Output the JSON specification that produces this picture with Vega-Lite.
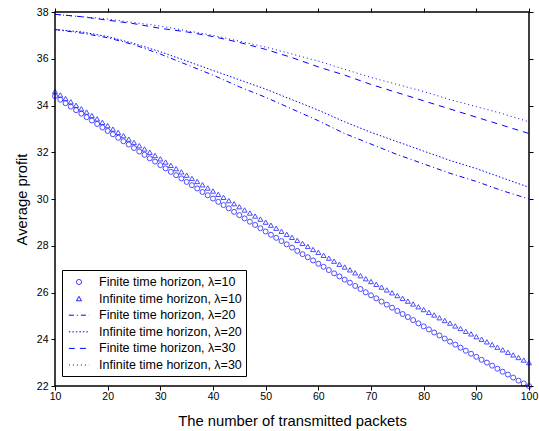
{
  "$schema": "https://vega.github.io/schema/vega-lite/v6.json",
  "width": 474,
  "height": 374,
  "autosize": "none",
  "padding": {"left": 55, "top": 12, "right": 10, "bottom": 45},
  "config": {
    "font": "Liberation Sans",
    "view": {"stroke": "black", "strokeWidth": 1.5},
    "axis": {
      "grid": false,
      "domain": false,
      "ticks": true,
      "zindex": 1,
      "tickSize": 4,
      "tickColor": "black",
      "tickWidth": 1,
      "labelFontSize": 10.5,
      "labelColor": "black",
      "labelFlush": false,
      "labelOverlap": false,
      "titleFontSize": 14.8,
      "titleFontWeight": "normal",
      "titleColor": "black"
    },
    "legend": {
      "orient": "none",
      "legendX": 7,
      "legendY": 258,
      "strokeColor": "black",
      "fillColor": "white",
      "padding": 4,
      "rowPadding": 1.6,
      "labelFontSize": 12.5,
      "labelColor": "black",
      "labelLimit": 300,
      "labelOffset": 12,
      "symbolOffset": 5,
      "symbolStrokeColor": "#0000ff",
      "symbolStrokeWidth": 1,
      "symbolSize": 225
    }
  },
  "datasets": {
    "lines": [
      {"s":"F20","x":10,"y":37.25},{"s":"F20","x":15,"y":37.1},{"s":"F20","x":20,"y":36.9},{"s":"F20","x":25,"y":36.6},{"s":"F20","x":30,"y":36.2},{"s":"F20","x":35,"y":35.75},{"s":"F20","x":40,"y":35.3},{"s":"F20","x":45,"y":34.8},{"s":"F20","x":50,"y":34.35},{"s":"F20","x":55,"y":33.85},{"s":"F20","x":60,"y":33.35},{"s":"F20","x":65,"y":32.8},{"s":"F20","x":70,"y":32.35},{"s":"F20","x":75,"y":31.9},{"s":"F20","x":80,"y":31.5},{"s":"F20","x":85,"y":31.1},{"s":"F20","x":90,"y":30.75},{"s":"F20","x":95,"y":30.35},{"s":"F20","x":100,"y":30.0},
      {"s":"I20","x":10,"y":37.25},{"s":"I20","x":15,"y":37.15},{"s":"I20","x":20,"y":36.95},{"s":"I20","x":25,"y":36.65},{"s":"I20","x":30,"y":36.3},{"s":"I20","x":35,"y":35.9},{"s":"I20","x":40,"y":35.5},{"s":"I20","x":45,"y":35.1},{"s":"I20","x":50,"y":34.7},{"s":"I20","x":55,"y":34.25},{"s":"I20","x":60,"y":33.8},{"s":"I20","x":65,"y":33.3},{"s":"I20","x":70,"y":32.85},{"s":"I20","x":75,"y":32.45},{"s":"I20","x":80,"y":32.05},{"s":"I20","x":85,"y":31.65},{"s":"I20","x":90,"y":31.3},{"s":"I20","x":95,"y":30.9},{"s":"I20","x":100,"y":30.5},
      {"s":"F30","x":10,"y":37.9},{"s":"F30","x":15,"y":37.8},{"s":"F30","x":20,"y":37.65},{"s":"F30","x":25,"y":37.5},{"s":"F30","x":30,"y":37.3},{"s":"F30","x":35,"y":37.15},{"s":"F30","x":40,"y":36.95},{"s":"F30","x":45,"y":36.7},{"s":"F30","x":50,"y":36.4},{"s":"F30","x":55,"y":36.05},{"s":"F30","x":60,"y":35.65},{"s":"F30","x":65,"y":35.3},{"s":"F30","x":70,"y":34.9},{"s":"F30","x":75,"y":34.55},{"s":"F30","x":80,"y":34.2},{"s":"F30","x":85,"y":33.85},{"s":"F30","x":90,"y":33.5},{"s":"F30","x":95,"y":33.15},{"s":"F30","x":100,"y":32.8},
      {"s":"I30","x":10,"y":37.9},{"s":"I30","x":15,"y":37.8},{"s":"I30","x":20,"y":37.7},{"s":"I30","x":25,"y":37.55},{"s":"I30","x":30,"y":37.4},{"s":"I30","x":35,"y":37.2},{"s":"I30","x":40,"y":37.0},{"s":"I30","x":45,"y":36.75},{"s":"I30","x":50,"y":36.5},{"s":"I30","x":55,"y":36.2},{"s":"I30","x":60,"y":35.9},{"s":"I30","x":65,"y":35.55},{"s":"I30","x":70,"y":35.2},{"s":"I30","x":75,"y":34.9},{"s":"I30","x":80,"y":34.6},{"s":"I30","x":85,"y":34.25},{"s":"I30","x":90,"y":33.95},{"s":"I30","x":95,"y":33.65},{"s":"I30","x":100,"y":33.3}
    ],
    "points": [
      {"s":"F10","x":10,"y":34.40},{"s":"F10","x":11,"y":34.25},{"s":"F10","x":12,"y":34.10},{"s":"F10","x":13,"y":33.95},{"s":"F10","x":14,"y":33.80},{"s":"F10","x":15,"y":33.65},{"s":"F10","x":16,"y":33.50},{"s":"F10","x":17,"y":33.36},{"s":"F10","x":18,"y":33.21},{"s":"F10","x":19,"y":33.06},
      {"s":"F10","x":20,"y":32.91},{"s":"F10","x":21,"y":32.77},{"s":"F10","x":22,"y":32.62},{"s":"F10","x":23,"y":32.47},{"s":"F10","x":24,"y":32.33},{"s":"F10","x":25,"y":32.18},{"s":"F10","x":26,"y":32.03},{"s":"F10","x":27,"y":31.89},{"s":"F10","x":28,"y":31.74},{"s":"F10","x":29,"y":31.60},
      {"s":"F10","x":30,"y":31.45},{"s":"F10","x":31,"y":31.31},{"s":"F10","x":32,"y":31.16},{"s":"F10","x":33,"y":31.02},{"s":"F10","x":34,"y":30.88},{"s":"F10","x":35,"y":30.73},{"s":"F10","x":36,"y":30.59},{"s":"F10","x":37,"y":30.45},{"s":"F10","x":38,"y":30.30},{"s":"F10","x":39,"y":30.16},
      {"s":"F10","x":40,"y":30.02},{"s":"F10","x":41,"y":29.88},{"s":"F10","x":42,"y":29.74},{"s":"F10","x":43,"y":29.60},{"s":"F10","x":44,"y":29.45},{"s":"F10","x":45,"y":29.31},{"s":"F10","x":46,"y":29.17},{"s":"F10","x":47,"y":29.03},{"s":"F10","x":48,"y":28.89},{"s":"F10","x":49,"y":28.75},
      {"s":"F10","x":50,"y":28.61},{"s":"F10","x":51,"y":28.47},{"s":"F10","x":52,"y":28.34},{"s":"F10","x":53,"y":28.20},{"s":"F10","x":54,"y":28.06},{"s":"F10","x":55,"y":27.92},{"s":"F10","x":56,"y":27.78},{"s":"F10","x":57,"y":27.64},{"s":"F10","x":58,"y":27.51},{"s":"F10","x":59,"y":27.37},
      {"s":"F10","x":60,"y":27.23},{"s":"F10","x":61,"y":27.10},{"s":"F10","x":62,"y":26.96},{"s":"F10","x":63,"y":26.82},{"s":"F10","x":64,"y":26.69},{"s":"F10","x":65,"y":26.55},{"s":"F10","x":66,"y":26.42},{"s":"F10","x":67,"y":26.28},{"s":"F10","x":68,"y":26.15},{"s":"F10","x":69,"y":26.01},
      {"s":"F10","x":70,"y":25.88},{"s":"F10","x":71,"y":25.75},{"s":"F10","x":72,"y":25.61},{"s":"F10","x":73,"y":25.48},{"s":"F10","x":74,"y":25.35},{"s":"F10","x":75,"y":25.21},{"s":"F10","x":76,"y":25.08},{"s":"F10","x":77,"y":24.95},{"s":"F10","x":78,"y":24.82},{"s":"F10","x":79,"y":24.68},
      {"s":"F10","x":80,"y":24.55},{"s":"F10","x":81,"y":24.42},{"s":"F10","x":82,"y":24.29},{"s":"F10","x":83,"y":24.16},{"s":"F10","x":84,"y":24.03},{"s":"F10","x":85,"y":23.90},{"s":"F10","x":86,"y":23.77},{"s":"F10","x":87,"y":23.64},{"s":"F10","x":88,"y":23.51},{"s":"F10","x":89,"y":23.38},
      {"s":"F10","x":90,"y":23.25},{"s":"F10","x":91,"y":23.12},{"s":"F10","x":92,"y":23.00},{"s":"F10","x":93,"y":22.87},{"s":"F10","x":94,"y":22.74},{"s":"F10","x":95,"y":22.61},{"s":"F10","x":96,"y":22.49},{"s":"F10","x":97,"y":22.36},{"s":"F10","x":98,"y":22.23},{"s":"F10","x":99,"y":22.11},{"s":"F10","x":100,"y":22.00},
      {"s":"I10","x":10,"y":34.60},{"s":"I10","x":11,"y":34.45},{"s":"I10","x":12,"y":34.30},{"s":"I10","x":13,"y":34.16},{"s":"I10","x":14,"y":34.01},{"s":"I10","x":15,"y":33.86},{"s":"I10","x":16,"y":33.72},{"s":"I10","x":17,"y":33.57},{"s":"I10","x":18,"y":33.43},{"s":"I10","x":19,"y":33.28},
      {"s":"I10","x":20,"y":33.14},{"s":"I10","x":21,"y":32.99},{"s":"I10","x":22,"y":32.85},{"s":"I10","x":23,"y":32.71},{"s":"I10","x":24,"y":32.56},{"s":"I10","x":25,"y":32.42},{"s":"I10","x":26,"y":32.28},{"s":"I10","x":27,"y":32.14},{"s":"I10","x":28,"y":32.00},{"s":"I10","x":29,"y":31.86},
      {"s":"I10","x":30,"y":31.72},{"s":"I10","x":31,"y":31.58},{"s":"I10","x":32,"y":31.44},{"s":"I10","x":33,"y":31.30},{"s":"I10","x":34,"y":31.16},{"s":"I10","x":35,"y":31.02},{"s":"I10","x":36,"y":30.88},{"s":"I10","x":37,"y":30.75},{"s":"I10","x":38,"y":30.61},{"s":"I10","x":39,"y":30.47},
      {"s":"I10","x":40,"y":30.34},{"s":"I10","x":41,"y":30.20},{"s":"I10","x":42,"y":30.07},{"s":"I10","x":43,"y":29.93},{"s":"I10","x":44,"y":29.80},{"s":"I10","x":45,"y":29.67},{"s":"I10","x":46,"y":29.53},{"s":"I10","x":47,"y":29.40},{"s":"I10","x":48,"y":29.27},{"s":"I10","x":49,"y":29.14},
      {"s":"I10","x":50,"y":29.01},{"s":"I10","x":51,"y":28.88},{"s":"I10","x":52,"y":28.75},{"s":"I10","x":53,"y":28.62},{"s":"I10","x":54,"y":28.49},{"s":"I10","x":55,"y":28.36},{"s":"I10","x":56,"y":28.23},{"s":"I10","x":57,"y":28.10},{"s":"I10","x":58,"y":27.97},{"s":"I10","x":59,"y":27.84},
      {"s":"I10","x":60,"y":27.72},{"s":"I10","x":61,"y":27.59},{"s":"I10","x":62,"y":27.47},{"s":"I10","x":63,"y":27.34},{"s":"I10","x":64,"y":27.21},{"s":"I10","x":65,"y":27.09},{"s":"I10","x":66,"y":26.97},{"s":"I10","x":67,"y":26.84},{"s":"I10","x":68,"y":26.72},{"s":"I10","x":69,"y":26.59},
      {"s":"I10","x":70,"y":26.47},{"s":"I10","x":71,"y":26.35},{"s":"I10","x":72,"y":26.23},{"s":"I10","x":73,"y":26.11},{"s":"I10","x":74,"y":25.99},{"s":"I10","x":75,"y":25.87},{"s":"I10","x":76,"y":25.75},{"s":"I10","x":77,"y":25.63},{"s":"I10","x":78,"y":25.51},{"s":"I10","x":79,"y":25.39},
      {"s":"I10","x":80,"y":25.27},{"s":"I10","x":81,"y":25.15},{"s":"I10","x":82,"y":25.04},{"s":"I10","x":83,"y":24.92},{"s":"I10","x":84,"y":24.80},{"s":"I10","x":85,"y":24.69},{"s":"I10","x":86,"y":24.57},{"s":"I10","x":87,"y":24.46},{"s":"I10","x":88,"y":24.34},{"s":"I10","x":89,"y":24.23},
      {"s":"I10","x":90,"y":24.11},{"s":"I10","x":91,"y":24.00},{"s":"I10","x":92,"y":23.89},{"s":"I10","x":93,"y":23.77},{"s":"I10","x":94,"y":23.66},{"s":"I10","x":95,"y":23.55},{"s":"I10","x":96,"y":23.44},{"s":"I10","x":97,"y":23.33},{"s":"I10","x":98,"y":23.22},{"s":"I10","x":99,"y":23.11},{"s":"I10","x":100,"y":23.00}
    ]
  },
  "layer": [
    {
      "data": {"name": "lines"},
      "mark": {"type": "line", "color": "#0000ff", "strokeWidth": 1},
      "encoding": {
        "x": {"field": "x", "type": "quantitative", "scale": {"domain": [10, 100], "nice": false},
          "axis": {"orient": "bottom", "values": [10,20,30,40,50,60,70,80,90,100], "labelPadding": 1, "title": "The number of transmitted packets", "titlePadding": 12}},
        "y": {"field": "y", "type": "quantitative", "scale": {"domain": [22, 38], "nice": false, "zero": false},
          "axis": {"orient": "left", "values": [22,24,26,28,30,32,34,36,38], "labelPadding": 3, "title": "Average profit", "titlePadding": 7}},
        "strokeDash": {"field": "s", "type": "nominal",
          "scale": {"domain": ["F10","I10","F20","I20","F30","I30"], "range": [[1,0],[1,0],[5,3,1,3],[1.5,2],[6,5],[1,3]]},
          "legend": {"title": null,
            "labelExpr": "(slice(datum.label,0,1)=='F' ? 'Finite' : 'Infinite') + ' time horizon, λ=' + slice(datum.label,1)",
            "encode": {"symbols": {"update": {"size": {"signal": "datum.value == 'F10' || datum.value == 'I10' ? 25 : 225"}, "fill": {"value": "transparent"}, "stroke": {"value": "#0000ff"}}}}}},
        "strokeOpacity": {"field": "s", "type": "nominal",
          "scale": {"domain": ["F10","I10","F20","I20","F30","I30"], "range": [1, 1, 1, 1, 1, 0.45]},
          "legend": {"title": null}}
      }
    },
    {
      "data": {"name": "points"},
      "mark": {"type": "point", "filled": false, "color": "#0000ff", "size": 25, "strokeWidth": 1},
      "encoding": {
        "x": {"field": "x", "type": "quantitative",
          "axis": {"orient": "top", "values": [10,20,30,40,50,60,70,80,90,100], "labels": false, "title": null}},
        "y": {"field": "y", "type": "quantitative",
          "axis": {"orient": "right", "values": [22,24,26,28,30,32,34,36,38], "labels": false, "title": null}},
        "shape": {"field": "s", "type": "nominal",
          "scale": {"domain": ["F10","I10","F20","I20","F30","I30"], "range": ["circle","triangle-up","M-1.35,0H1.35","M-1.35,0H1.35","M-1.35,0H1.35","M-1.35,0H1.35"]},
          "legend": {"title": null}}
      }
    }
  ],
  "resolve": {"axis": {"x": "independent", "y": "independent"}}
}
